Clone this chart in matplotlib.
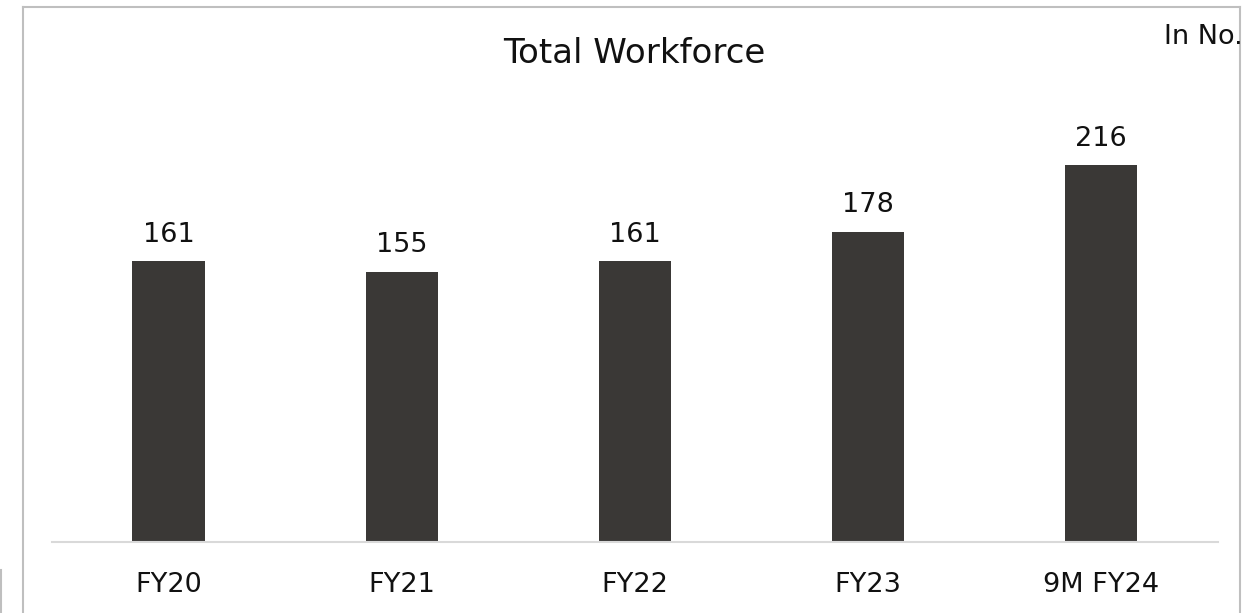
import matplotlib
matplotlib.use('Agg')
import matplotlib.pyplot as plt
from matplotlib.lines import Line2D

# Total workforce (in No.)
categories = ['FY20', 'FY21', 'FY22', 'FY23', '9M FY24']
workforce = [161, 155, 161, 178, 216]

plt.rcParams['font.family'] = ['DejaVu Sans']

fig = plt.figure(figsize=(12.49, 6.13), dpi=100)
ax = fig.add_axes([0.0416, 0.1158, 0.9334, 0.7112])

x = range(len(categories))
bars = ax.bar(x, workforce, width=0.31, color='#3a3836', zorder=2)

for b, v in zip(bars, workforce):
    ax.annotate(str(v), (b.get_x() + b.get_width() / 2, v),
                xytext=(0, 14), textcoords='offset points',
                ha='center', va='baseline', fontsize=19.5, color='#111111')

ax.set_xlim(-0.5, len(categories) - 0.5)
ax.set_ylim(0, 250)
ax.set_xticks(list(x))
ax.set_xticklabels(categories, fontsize=19.5, color='#111111', va='baseline')
ax.tick_params(axis='x', length=0, pad=36)
ax.set_yticks([])
for s in ['top', 'right', 'left']:
    ax.spines[s].set_visible(False)
ax.spines['bottom'].set_color('#d9d9d9')
ax.spines['bottom'].set_linewidth(1.5)

fig.text(0.508, 0.8972, 'Total Workforce', ha='center', va='baseline',
         fontsize=24.5, color='#111111')
fig.text(0.9952, 0.9282, 'In No.', ha='right', va='baseline',
         fontsize=19.5, color='#111111')

# outer frame
W, H = 1249, 613
frame = dict(color='#bfbfbf', linewidth=1.5, transform=fig.transFigure)
fig.add_artist(Line2D([23 / W, 23 / W], [0, 1 - 7 / H], **frame))
fig.add_artist(Line2D([23 / W, 1240 / W], [1 - 7 / H, 1 - 7 / H], **frame))
fig.add_artist(Line2D([1240 / W, 1240 / W], [0, 1 - 7 / H], **frame))
fig.add_artist(Line2D([1 / W, 1 / W], [0, 43 / H], **frame))

fig.savefig('out.png', dpi=100)
